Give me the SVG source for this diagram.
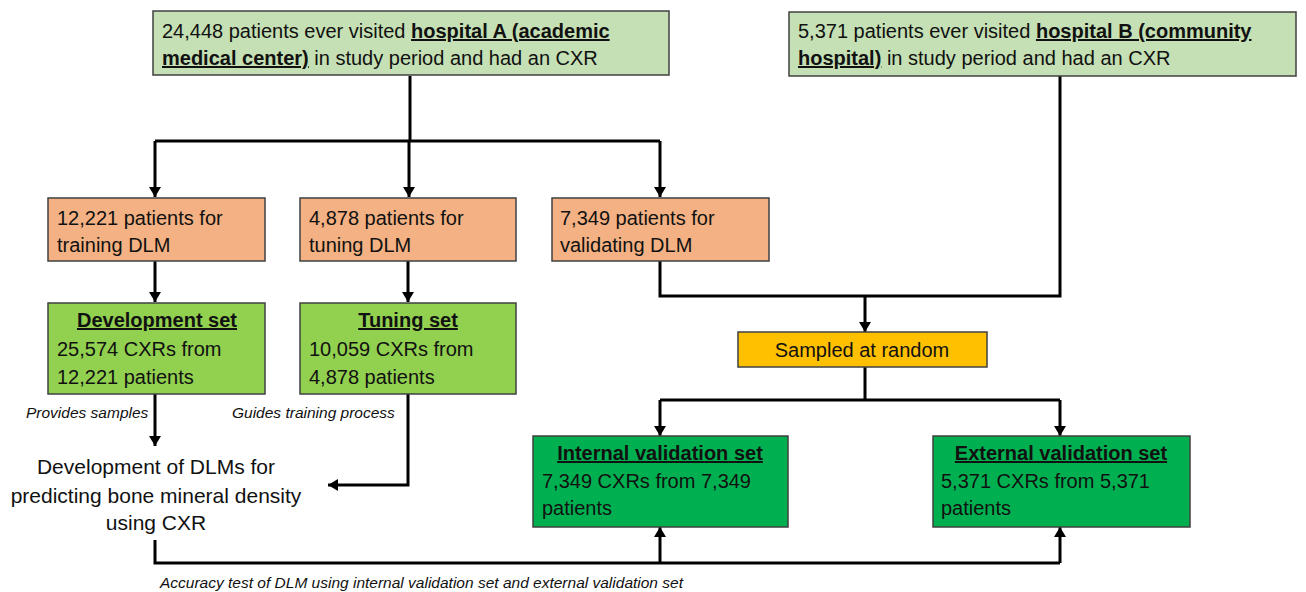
<svg xmlns="http://www.w3.org/2000/svg" width="1306" height="592" viewBox="0 0 1306 592">
<defs>
<marker id="ah" viewBox="0 0 10 12" refX="10" refY="6" markerWidth="10" markerHeight="12" markerUnits="userSpaceOnUse" orient="auto">
<path d="M0,0 L10,6 L0,12 z" fill="#000"/>
</marker>
</defs>
<style>
text{font-family:"Liberation Sans",Arial,sans-serif;font-size:20px;fill:#111}
.b{font-weight:bold;text-decoration:underline}
.it{font-style:italic;font-size:15.5px}
.big{font-size:21px}
.box{stroke:#404040;stroke-width:1.5}
.lg{fill:#c5e0b4}
.or{fill:#f4b183}
.gr{fill:#92d050}
.dg{fill:#00b050}
.ye{fill:#ffc000}
.c{fill:none;stroke:#000;stroke-width:3}
</style>
<g id="connectors">
<path class="c" d="M410,76 V141"/>
<path class="c" d="M155,141 H660"/>
<path class="c" d="M155,141 V197" marker-end="url(#ah)"/>
<path class="c" d="M409,141 V197" marker-end="url(#ah)"/>
<path class="c" d="M660,141 V197" marker-end="url(#ah)"/>
<path class="c" d="M155,261 V302" marker-end="url(#ah)"/>
<path class="c" d="M408,261 V302" marker-end="url(#ah)"/>
<path class="c" d="M155,394 V446" marker-end="url(#ah)"/>
<path class="c" d="M408,394 V485 H328" marker-end="url(#ah)"/>
<path class="c" d="M660,261 V296 H1060 V76"/>
<path class="c" d="M865,296 V332" marker-end="url(#ah)"/>
<path class="c" d="M865,367 V400"/>
<path class="c" d="M660,400 H1060"/>
<path class="c" d="M660,400 V436" marker-end="url(#ah)"/>
<path class="c" d="M1060,400 V436" marker-end="url(#ah)"/>
<path class="c" d="M155,540 V563 H1060"/>
<path class="c" d="M660,563 V527" marker-end="url(#ah)"/>
<path class="c" d="M1060,563 V527" marker-end="url(#ah)"/>
</g>
<g id="hospitalA">
<rect class="box lg" x="153" y="11" width="516" height="64"/>
<text x="162" y="38">24,448 patients ever visited <tspan class="b">hospital A (academic</tspan></text>
<text x="162" y="65"><tspan class="b">medical center)</tspan> in study period and had an CXR</text>
</g>
<g id="hospitalB">
<rect class="box lg" x="789" y="12" width="507" height="64"/>
<text x="798" y="38">5,371 patients ever visited <tspan class="b">hospital B (community</tspan></text>
<text x="798" y="65"><tspan class="b">hospital)</tspan> in study period and had an CXR</text>
</g>
<g id="training">
<rect class="box or" x="48" y="198" width="217" height="63"/>
<text x="57" y="225">12,221 patients for</text>
<text x="57" y="252">training DLM</text>
</g>
<g id="tuning">
<rect class="box or" x="300" y="198" width="216" height="63"/>
<text x="309" y="225">4,878 patients for</text>
<text x="309" y="252">tuning DLM</text>
</g>
<g id="validating">
<rect class="box or" x="552" y="198" width="217" height="63"/>
<text x="560" y="225">7,349 patients for</text>
<text x="560" y="252">validating DLM</text>
</g>
<g id="devset">
<rect class="box gr" x="48" y="303" width="217" height="91"/>
<text x="157" y="327" text-anchor="middle" class="b">Development set</text>
<text x="57" y="356">25,574 CXRs from</text>
<text x="57" y="384">12,221 patients</text>
</g>
<g id="tuningset">
<rect class="box gr" x="300" y="303" width="216" height="91"/>
<text x="408" y="327" text-anchor="middle" class="b">Tuning set</text>
<text x="309" y="356">10,059 CXRs from</text>
<text x="309" y="384">4,878 patients</text>
</g>
<g id="labels">
<text class="it" x="26" y="418">Provides samples</text>
<text class="it" x="232" y="418">Guides training process</text>
<text class="it" x="160" y="588" font-size="16">Accuracy test of DLM using internal validation set and external validation set</text>
</g>
<g id="development">
<text x="156" y="474" text-anchor="middle" class="big">Development of DLMs for</text>
<text x="156" y="503" text-anchor="middle" class="big">predicting bone mineral density</text>
<text x="156" y="530" text-anchor="middle" class="big">using CXR</text>
</g>
<g id="sampled">
<rect class="box ye" x="738" y="332" width="249" height="35"/>
<text x="862" y="357" text-anchor="middle">Sampled at random</text>
</g>
<g id="internal">
<rect class="box dg" x="533" y="436" width="255" height="91"/>
<text x="660" y="460" text-anchor="middle" class="b">Internal validation set</text>
<text x="542" y="488">7,349 CXRs from 7,349</text>
<text x="542" y="515">patients</text>
</g>
<g id="external">
<rect class="box dg" x="933" y="436" width="257" height="91"/>
<text x="1061" y="460" text-anchor="middle" class="b">External validation set</text>
<text x="941" y="488">5,371 CXRs from 5,371</text>
<text x="941" y="515">patients</text>
</g>
</svg>
